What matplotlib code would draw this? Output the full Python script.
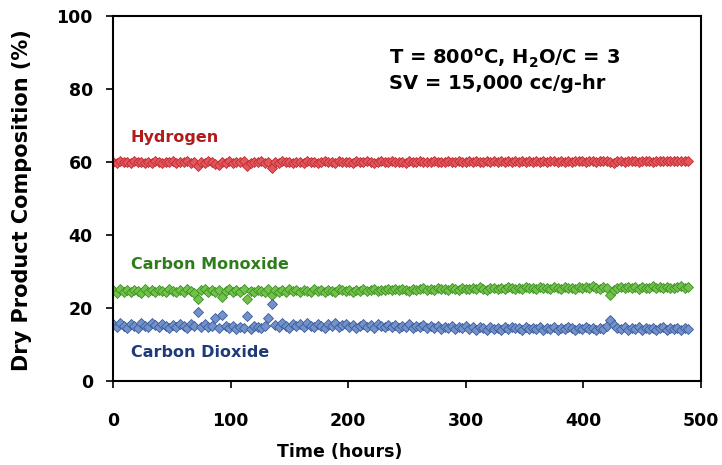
import matplotlib
matplotlib.use('Agg')
import matplotlib.pyplot as plt

# sampling times (hours)
hours = list(range(0, 490, 3))

hydrogen = [60.0, 59.7, 60.2, 59.9, 60.1, 59.8, 60.2, 59.9, 60.0, 59.7,
            60.1, 59.8, 60.2, 60.0, 59.8, 60.1, 59.9, 60.2, 59.8, 60.0,
            59.9, 60.2, 59.7, 60.0, 58.8, 60.1, 59.8, 60.2, 59.9, 59.4,
            59.2, 60.0, 59.8, 60.2, 59.6, 60.1, 59.9, 60.2, 58.9, 59.8,
            60.1, 59.9, 60.2, 59.7, 60.0, 58.4, 60.1, 59.8, 60.2, 59.9,
            60.0, 59.8, 60.1, 60.0, 59.7, 60.2, 59.9, 60.1, 59.8, 60.0,
            60.2, 59.9, 60.1, 59.8, 60.2, 60.0, 59.9, 60.1, 59.8, 60.2,
            60.0, 59.9, 60.2, 60.0, 59.8, 60.1, 60.3, 59.9, 60.0, 60.2,
            59.9, 60.1, 60.0, 59.8, 60.2, 60.1, 59.9, 60.3, 60.0, 60.1,
            59.9, 60.2, 60.0, 60.1, 59.9, 60.3, 60.1, 60.0, 60.2, 59.9,
            60.1, 60.2, 60.0, 60.3, 60.1, 59.9, 60.2, 60.1, 60.3, 60.0,
            60.2, 60.1, 60.3, 60.0, 60.2, 60.1, 60.3, 60.0, 60.2, 60.1,
            60.3, 60.1, 60.2, 60.0, 60.3, 60.2, 60.1, 60.3, 60.0, 60.2,
            60.1, 60.3, 60.2, 60.4, 60.1, 60.2, 60.3, 60.1, 60.4, 60.2,
            60.3, 60.1, 59.8, 60.2, 60.3, 60.1, 60.4, 60.2, 60.3, 60.1,
            60.4, 60.2, 60.3, 60.1, 60.4, 60.3, 60.2, 60.4, 60.3, 60.2,
            60.4, 60.3, 60.2, 60.4]

carbon_monoxide = [24.8, 24.2, 25.1, 24.5, 24.9, 24.3, 25.0, 24.6, 24.2, 25.1,
                   24.5, 24.9, 24.3, 25.0, 24.6, 24.4, 25.2, 24.7, 24.3, 24.9,
                   24.5, 25.2, 24.6, 24.2, 22.4, 24.8, 25.1, 24.5, 24.9, 24.3,
                   25.0, 22.9, 24.6, 25.1, 24.4, 24.9, 24.3, 25.2, 22.6, 24.7,
                   24.4, 25.0, 24.7, 24.3, 25.1, 23.7, 25.0, 24.5, 24.9, 24.4,
                   25.1, 24.6, 24.9, 24.3, 25.0, 24.7, 24.5, 25.1, 24.6, 24.9,
                   24.4, 25.0, 24.7, 24.5, 25.1, 24.8, 24.6, 25.0, 24.5, 24.9,
                   24.7, 25.1, 24.6, 24.9, 25.2, 24.7, 25.0, 24.8, 25.3, 24.9,
                   25.1, 24.8, 25.2, 25.0, 24.7, 25.3, 24.9, 25.1, 25.4, 24.9,
                   25.2, 25.0, 25.4, 25.1, 25.3, 24.9, 25.5, 25.2, 25.0, 25.6,
                   25.3, 25.1, 25.5, 25.2, 25.7, 25.3, 25.0, 25.6, 25.4, 25.2,
                   25.5, 25.3, 25.7, 25.4, 25.1, 25.6, 25.3, 25.8, 25.4, 25.5,
                   25.2, 25.7, 25.4, 25.6, 25.3, 25.8, 25.5, 25.2, 25.7, 25.4,
                   25.6, 25.3, 25.8, 25.5, 25.7, 25.4, 25.9, 25.6, 25.3, 25.8,
                   25.5, 23.6, 24.9, 25.4, 25.7, 25.5, 25.8, 25.4, 25.7, 25.3,
                   25.8, 25.5, 25.6, 25.9, 25.4, 25.7, 25.5, 25.8, 25.6, 25.4,
                   25.7, 25.9, 25.6, 25.8]

carbon_dioxide = [15.6, 14.8, 15.9, 15.1, 14.6, 15.7, 15.0, 14.5, 15.8, 15.2,
                  14.7, 15.9, 15.3, 14.8, 15.6, 15.0, 14.5, 15.4, 14.9, 15.7,
                  15.1, 14.6, 15.5, 15.0, 18.8, 14.9, 15.5, 14.7, 15.2, 17.4,
                  14.6, 18.0, 15.2, 14.4, 15.1, 14.2, 14.9, 14.5, 17.7, 14.3,
                  15.2, 14.7, 14.4, 15.0, 17.3, 21.0, 15.4, 14.8, 15.8, 15.1,
                  14.6, 15.7, 15.0, 15.5, 14.7, 15.9, 15.2, 14.8, 15.6, 15.1,
                  14.6, 15.5, 15.0, 15.8, 14.7, 15.3, 15.6, 14.9, 15.4, 14.6,
                  15.2, 15.6, 14.8, 15.3, 14.5, 15.5, 15.0, 14.7, 15.4, 14.9,
                  15.3, 14.6, 15.2, 14.8, 15.5, 14.5, 15.1, 14.7, 15.3, 14.4,
                  15.0, 14.6, 15.2, 14.3, 14.9, 14.5, 15.1, 14.2, 14.8, 14.4,
                  15.0, 14.3, 14.7, 14.1, 14.9, 14.4, 14.0, 14.8, 14.3, 14.6,
                  14.1, 14.7, 14.2, 14.9, 14.4, 14.6, 14.0, 14.8, 14.3, 14.5,
                  14.2, 14.7, 14.1, 14.6, 14.3, 14.9, 14.0, 14.5, 14.2, 14.7,
                  14.4, 14.1, 14.6, 14.3, 14.8, 14.2, 14.5, 14.0, 14.6, 14.3,
                  15.0, 16.7, 15.4, 14.6, 14.2, 14.8, 14.1, 14.5, 14.3, 14.7,
                  14.0, 14.5, 14.2, 14.6, 14.1, 14.4, 14.7, 14.0, 14.5, 14.2,
                  14.6, 14.1, 14.4, 14.3]

plt.rcParams['font.family'] = ['DejaVu Sans']
plt.rcParams['font.weight'] = 'bold'
plt.rcParams['mathtext.fontset'] = 'dejavusans'

fig = plt.figure(figsize=(7.22, 4.65), dpi=100)
ax = fig.add_axes([0.1565, 0.1806, 0.8144, 0.785])

ax.plot(hours, hydrogen, 'D', ms=5, mfc='#e2575c', mec='#c22a30', mew=0.6)
ax.plot(hours, carbon_monoxide, 'D', ms=5, mfc='#72c24a', mec='#3d8f26', mew=0.6)
ax.plot(hours, carbon_dioxide, 'D', ms=5, mfc='#7292cc', mec='#3b5a99', mew=0.6)

ax.text(15.3, 66.8, 'Hydrogen', color='#b01c1c', fontsize=11.5, fontweight='bold', va='center')
ax.text(15.3, 31.8, 'Carbon Monoxide', color='#2e7d1a', fontsize=11.5, fontweight='bold', va='center')
ax.text(15.3, 7.9, 'Carbon Dioxide', color='#1f3a78', fontsize=11.5, fontweight='bold', va='center')

ax.text(234.7, 88.5, r'T = 800$\mathbf{^{o}}$C, H$\mathbf{_{2}}$O/C = 3', fontsize=14,
        fontweight='bold', va='center')
ax.text(234.7, 81.4, 'SV = 15,000 cc/g-hr', fontsize=14, fontweight='bold', va='center')

ax.set_xlim(0, 500)
ax.set_ylim(0, 100)
ax.set_xticks([0, 100, 200, 300, 400, 500])
ax.set_yticks([0, 20, 40, 60, 80, 100])
ax.tick_params(axis='x', direction='out', length=5, width=1.2, pad=17, labelsize=12.5)
ax.tick_params(axis='y', direction='out', length=5, width=1.2, pad=9.5, labelsize=12.5)
for t in ax.get_xticklabels() + ax.get_yticklabels():
    t.set_fontweight('bold')
for s in ax.spines.values():
    s.set_linewidth(1.5)

ax.set_xlabel('Time (hours)', fontsize=12.5, fontweight='bold', va='center')
ax.xaxis.set_label_coords(0.386, -0.195)
ax.set_ylabel('Dry Product Composition (%)', fontsize=15, fontweight='bold', va='center')
ax.yaxis.set_label_coords(-0.155, 0.496)

fig.savefig('out.png', dpi=100)
